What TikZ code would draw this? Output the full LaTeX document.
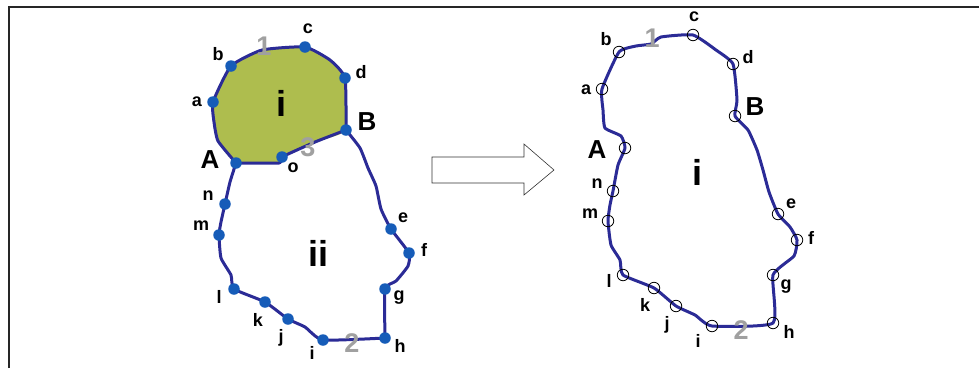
\documentclass[tikz,border=0pt]{standalone}
\usepackage{fontspec}
\setmainfont{Liberation Sans}
\definecolor{edgeblue}{RGB}{43,43,150}
\definecolor{dotblue}{RGB}{22,92,184}
\definecolor{olive}{RGB}{174,189,78}
\definecolor{numgray}{RGB}{160,160,160}

\begin{document}
\begin{tikzpicture}[x=1pt, y=-1pt,
  edge/.style={edgeblue, line width=3pt, line join=round},
  bluedot/.style={circle, fill=dotblue, inner sep=0pt, minimum size=11.5pt},
  ring/.style={circle, draw=black, line width=0.8pt, inner sep=0pt, minimum size=11.5pt},
  lbl/.style={font=\fontsize{18}{18}\selectfont\bfseries, inner sep=0pt},
  big/.style={font=\fontsize{26}{26}\selectfont\bfseries, inner sep=0pt},
  huge/.style={font=\fontsize{36}{36}\selectfont\bfseries, inner sep=0pt},
  num/.style={font=\fontsize{27}{27}\selectfont\bfseries, text=numgray, inner sep=0pt}]
  \useasboundingbox (0,0) rectangle (979,368);
  % frame
  \draw[line width=2.4pt, black!85] (9,368) -- (9,7) -- (979,7);

  % left figure
  \coordinate (A) at (236,163);
  \coordinate (B) at (346,130);
  \coordinate (a) at (213,102);
  \coordinate (b) at (231,66);
  \coordinate (c) at (305,47);
  \coordinate (d) at (345,78);
  \coordinate (o) at (282,157);
  \coordinate (e) at (391,229);
  \coordinate (f) at (409,253);
  \coordinate (g) at (385,289);
  \coordinate (h) at (385,338);
  \coordinate (i) at (323,340);
  \coordinate (j) at (288,319);
  \coordinate (k) at (265,302);
  \coordinate (l) at (234,289);
  \coordinate (m) at (219,235);
  \coordinate (n) at (225,204);

  \fill[olive] plot[smooth, tension=0.3] coordinates {(A) (218,141) (214,122) (a) (b) (262,50)
    (c) (330,60) (d) (B) (315,142) (o) (279,163) (A)};
  \draw[edge] plot[smooth, tension=0.3] coordinates {(A) (218,141) (214,122) (a) (b) (262,50)
    (c) (330,60) (d) (B)};
  \draw[edge] plot[smooth, tension=0.3] coordinates {(B) (315,142) (o) (279,163) (A)};
  \draw[edge] plot[smooth, tension=0.3] coordinates {(A) (230,182) (n) (221,222) (m) (221,258)
    (231,275) (l) (k) (j) (305,327) (i) (h)};
  \draw[edge] plot[smooth, tension=0.3] coordinates {(h) (g) (396,281) (408,266) (f) (e)
    (381,209) (376,186) (368,168) (360,148) (B)};

  \foreach \p in {A,B,a,b,c,d,o,e,f,g,h,i,j,k,l,m,n}
    \node[bluedot] (dot\p) at (\p) {};

  \foreach \p/\x/\y in {a/197/102, b/218/54, c/308/29, d/361/72, o/293/168,
      n/208/196, m/201/226, l/219/297, k/258/320, j/281/338, i/312/353,
      h/400/346, g/399/298, f/424/250, e/403/218}
    \node[lbl] (L\p) at (\x,\y) {\p};
  \node[big] (LA) at (210,160) {A};
  \node[big] (LB) at (367,122) {B};
  \node[huge] (Li) at (281,103) {i};
  \node[huge] (Lii) at (318,253) {ii};
  \node[num] (L1) at (264,46) {1};
  \node[num] (L2) at (352,343) {2};
  \node[num] (L3) at (308,147) {3};

  % block arrow
  \draw[line width=0.6pt, black!80, fill=white] (432,157) -- (524,157) -- (524,144) -- (554,170)
    -- (524,195) -- (524,183) -- (432,183) -- cycle;

  % right figure
  \coordinate (A') at (625,148);
  \coordinate (B') at (735,116);
  \coordinate (a') at (602,89);
  \coordinate (b') at (619,52);
  \coordinate (c') at (693,35);
  \coordinate (d') at (733,64);
  \coordinate (e') at (778,214);
  \coordinate (f') at (797,240);
  \coordinate (g') at (773,275);
  \coordinate (h') at (773,323);
  \coordinate (i') at (712,326);
  \coordinate (j') at (676,306);
  \coordinate (k') at (654,288);
  \coordinate (l') at (623,275);
  \coordinate (m') at (608,221);
  \coordinate (n') at (613,191);

  \draw[edge] plot[smooth cycle, tension=0.3] coordinates {(a') (b') (636,46) (651,44) (661,37)
    (c') (716,50) (d') (737,100) (B') (748,130) (757,150) (763,170) (769,192) (e') (790,227)
    (f') (794,256) (g') (h') (i') (695,315) (j') (k') (l') (620,260) (611,245) (m') (610,205)
    (n') (618,165) (A') (621,136) (605,128) (603,110)};

  \foreach \p in {A,B,a,b,c,d,e,f,g,h,i,j,k,l,m,n}
    \node[ring] (ring\p) at (\p') {};

  \foreach \p/\x/\y in {a/586/90, b/606/39, c/694/17, d/748/57, n/597/184,
      m/590/214, l/609/281, k/645/305, j/667/325, i/698/341, h/789/332,
      g/786/287, f/811/238, e/791/204}
    \node[lbl] (R\p) at (\x,\y) {\p};
  \node[big] (RA) at (597,150) {A};
  \node[big] (RB) at (755,107) {B};
  \node[huge] (Ri) at (697,172) {i};
  \node[num] (R1) at (652,38) {1};
  \node[num] (R2) at (741,330) {2};
\end{tikzpicture}
\end{document}
